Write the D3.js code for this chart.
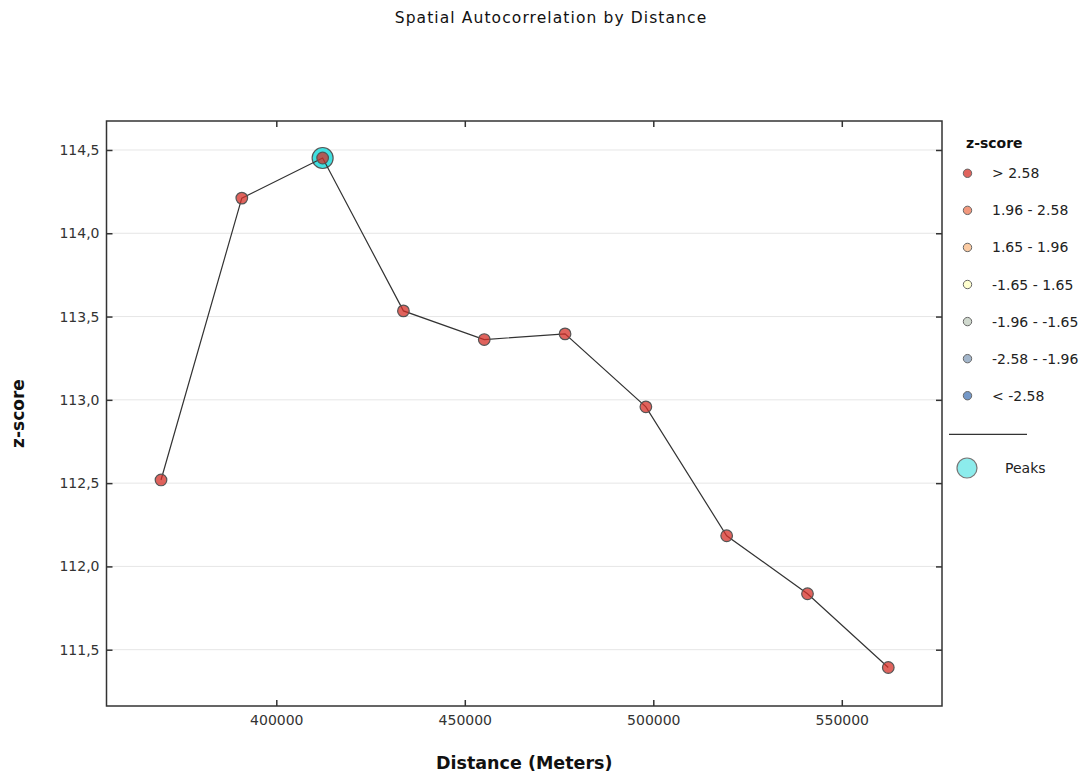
<!DOCTYPE html>
<html>
<head>
<meta charset="utf-8">
<script src="https://cdn.jsdelivr.net/npm/d3@7"></script>
<style>
  html, body { margin: 0; padding: 0; background: #fff; }
  svg { display: block; font-family: "DejaVu Sans", sans-serif; }
</style>
</head>
<body>
<svg id="chart" width="1092" height="776"></svg>
<script>
// ---- data ----
const distances = [369420, 390850, 412290, 433720, 455160, 476590, 498030, 519460, 540900, 562330];
const zScores   = [112.519, 114.211, 114.452, 113.534, 113.362, 113.396, 112.958, 112.184, 111.836, 111.393];
const peakDistances = [412290];
const xTicks = [400000, 450000, 500000, 550000];
const yTicks = [111.5, 112.0, 112.5, 113.0, 113.5, 114.0, 114.5];
const legendLabels = ["> 2.58", "1.96 - 2.58", "1.65 - 1.96", "-1.65 - 1.65", "-1.96 - -1.65", "-2.58 - -1.96", "< -2.58"];
const legendColors = ["#d62f27", "#ed7551", "#fab984", "#ffffbf", "#c0ccbe", "#849eba", "#4575b5"];
const xDomain = [354960, 576580];
const yDomain = [111.162, 114.674];

// ---- layout ----
const svg = d3.select("#chart");
const plot = { left: 106.5, right: 942, top: 121, bottom: 706 };

const x = d3.scaleLinear().domain(xDomain).range([plot.left, plot.right]);
const y = d3.scaleLinear().domain(yDomain).range([plot.bottom, plot.top]);

const commaLocale = d3.formatLocale({ decimal: ",", thousands: ".", grouping: [3], currency: ["", ""] });
const yFmt = commaLocale.format(".1f");
const xFmt = d3.format("d");

// title
svg.append("text")
  .attr("x", 551).attr("y", 23)
  .attr("text-anchor", "middle")
  .attr("font-size", 15.5)
  .attr("letter-spacing", 1.1)
  .attr("fill", "#111")
  .text("Spatial Autocorrelation by Distance");

// grid
svg.append("g").selectAll("line").data(yTicks).join("line")
  .attr("x1", plot.left).attr("x2", plot.right)
  .attr("y1", d => y(d)).attr("y2", d => y(d))
  .attr("stroke", "#e6e6e6").attr("stroke-width", 1);

// axes
const gLeft = svg.append("g").attr("transform", `translate(${plot.left},0)`)
  .call(d3.axisLeft(y).tickValues(yTicks).tickFormat(yFmt).tickSizeInner(-6).tickSizeOuter(0).tickPadding(7));
const gRight = svg.append("g").attr("transform", `translate(${plot.right},0)`)
  .call(d3.axisRight(y).tickValues(yTicks).tickFormat("").tickSizeInner(-6).tickSizeOuter(0));
const gBottom = svg.append("g").attr("transform", `translate(0,${plot.bottom})`)
  .call(d3.axisBottom(x).tickValues(xTicks).tickFormat(xFmt).tickSizeInner(-6).tickSizeOuter(0).tickPadding(9));
const gTop = svg.append("g").attr("transform", `translate(0,${plot.top})`)
  .call(d3.axisTop(x).tickValues(xTicks).tickFormat("").tickSizeInner(-6).tickSizeOuter(0));

[gLeft, gRight, gBottom, gTop].forEach(g => {
  g.select(".domain").remove();
  g.selectAll(".tick line").attr("stroke", "#333").attr("stroke-width", 1.5);
  g.selectAll(".tick text").attr("font-size", 14).attr("fill", "#333").attr("font-family", "DejaVu Sans, sans-serif");
});

// frame
svg.append("rect")
  .attr("x", plot.left).attr("y", plot.top)
  .attr("width", plot.right - plot.left).attr("height", plot.bottom - plot.top)
  .attr("fill", "none").attr("stroke", "#333").attr("stroke-width", 1.5);

// axis titles
svg.append("text")
  .attr("x", (plot.left + plot.right) / 2).attr("y", 769)
  .attr("text-anchor", "middle").attr("font-size", 17.5).attr("font-weight", "bold")
  .attr("fill", "#111")
  .text("Distance (Meters)");
svg.append("text")
  .attr("transform", `translate(24,${(plot.top + plot.bottom) / 2}) rotate(-90)`)
  .attr("text-anchor", "middle").attr("font-size", 17).attr("font-weight", "bold")
  .attr("fill", "#111")
  .text("z-score");

// data
const pts = distances.map((d, i) => ({ d, z: zScores[i] }));

// peak halo
svg.append("g").selectAll("circle").data(pts.filter(p => peakDistances.includes(p.d))).join("circle")
  .attr("cx", p => x(p.d)).attr("cy", p => y(p.z)).attr("r", 10.5)
  .attr("fill", "#40e0e0").attr("stroke", "#555").attr("stroke-width", 1.2);

// line
svg.append("path").datum(pts)
  .attr("d", d3.line().x(p => x(p.d)).y(p => y(p.z)))
  .attr("fill", "none").attr("stroke", "#333").attr("stroke-width", 1.2);

// points
svg.append("g").selectAll("circle").data(pts).join("circle")
  .attr("cx", p => x(p.d)).attr("cy", p => y(p.z)).attr("r", 5.8)
  .attr("fill", legendColors[0]).attr("fill-opacity", 0.75)
  .attr("stroke", "#555").attr("stroke-width", 1.2);

// legend
const lg = svg.append("g");
lg.append("text").attr("x", 966).attr("y", 148)
  .attr("font-size", 14).attr("font-weight", "bold").attr("fill", "#111").text("z-score");
const items = lg.selectAll("g.item").data(legendLabels).join("g").attr("class", "item")
  .attr("transform", (d, i) => `translate(0,${173.3 + i * 37.07})`);
items.append("circle").attr("cx", 967.5).attr("cy", 0).attr("r", 4.2)
  .attr("fill", (d, i) => legendColors[i]).attr("fill-opacity", 0.75)
  .attr("stroke", "#666").attr("stroke-width", 1);
items.append("text").attr("x", 992).attr("y", 0).attr("dy", "0.36em")
  .attr("font-size", 14).attr("fill", "#222").text(d => d);
lg.append("line").attr("x1", 949).attr("x2", 1027).attr("y1", 434.3).attr("y2", 434.3)
  .attr("stroke", "#333").attr("stroke-width", 1.2);
lg.append("circle").attr("cx", 967).attr("cy", 468).attr("r", 10)
  .attr("fill", "#40e0e0").attr("fill-opacity", 0.6).attr("stroke", "#777").attr("stroke-width", 1.2);
lg.append("text").attr("x", 1005).attr("y", 468).attr("dy", "0.36em")
  .attr("font-size", 14).attr("fill", "#222").text("Peaks");
</script>
</body>
</html>
